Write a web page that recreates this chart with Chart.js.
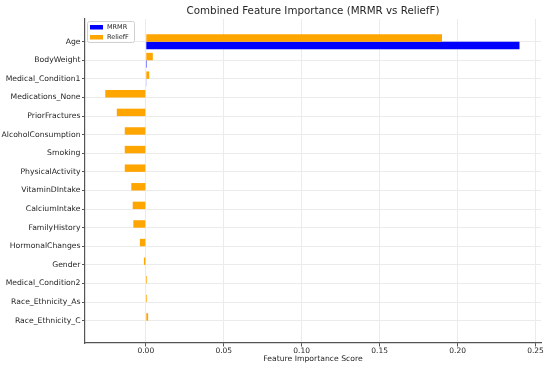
<!DOCTYPE html>
<html>
<head>
<meta charset="utf-8">
<script src="https://cdn.jsdelivr.net/npm/chart.js@4.4.1/dist/chart.umd.min.js"></script>
<style>
  html, body { margin: 0; padding: 0; background: #fff; }
  #wrap { width: 550px; height: 368px; }
</style>
</head>
<body>
<div id="wrap"><canvas id="chart"></canvas></div>
<script>
// feature importance data
const features = [
  'Age', 'BodyWeight', 'Medical_Condition1', 'Medications_None', 'PriorFractures',
  'AlcoholConsumption', 'Smoking', 'PhysicalActivity', 'VitaminDIntake', 'CalciumIntake',
  'FamilyHistory', 'HormonalChanges', 'Gender', 'Medical_Condition2', 'Race_Ethnicity_As',
  'Race_Ethnicity_C'
];
const mrmrScores = [0.2397, 0.0006, 0.0004, 0, 0, 0, 0, 0, 0, 0, 0, 0, 0, 0, 0, 0];
const relieffScores = [
  0.1900, 0.0045, 0.0022, -0.0260, -0.0186, -0.0135, -0.0135, -0.0135, -0.0093, -0.0084,
  -0.0080, -0.0038, -0.0012, 0.0008, 0.0008, 0.0015
];
const xTicks = [0, 0.05, 0.10, 0.15, 0.20, 0.25];
const chartTitle = 'Combined Feature Importance (MRMR vs ReliefF)';

const FONT = 'DejaVu Sans';
const TEXT = '#262626';

function toPoints(values) {
  return values.map((v, i) => ({ x: v, y: i }));
}

// title centred over the plot area (matplotlib style), legend inside top-left
// (datasets are stacked ReliefF-first, legend lists MRMR first)
const decorations = {
  id: 'decorations',
  afterDraw(chart) {
    const ctx = chart.ctx;
    const a = chart.chartArea;
    ctx.save();
    ctx.fillStyle = TEXT;
    ctx.font = '10.3px "' + FONT + '"';
    ctx.textAlign = 'center';
    ctx.textBaseline = 'middle';
    ctx.fillText(chartTitle, (a.left + a.right) / 2, 11.5);

    const x = a.left + 2, y = a.top + 2;
    ctx.fillStyle = 'rgba(255,255,255,0.85)';
    ctx.strokeStyle = '#d0d0d0';
    ctx.lineWidth = 1;
    ctx.beginPath();
    ctx.roundRect(x + 0.5, y + 0.5, 47, 21, 2);
    ctx.fill();
    ctx.stroke();
    ctx.font = '6.5px "' + FONT + '"';
    ctx.textAlign = 'left';
    chart.data.datasets.slice().reverse().forEach((ds, i) => {
      const cy = y + 6 + i * 10;
      ctx.fillStyle = ds.backgroundColor;
      ctx.fillRect(x + 3, cy - 2, 13, 4.5);
      ctx.fillStyle = TEXT;
      ctx.fillText(ds.label, x + 20, cy + 0.5);
    });
    ctx.restore();
  }
};

new Chart(document.getElementById('chart'), {
  type: 'bar',
  data: {
    datasets: [
      { label: 'ReliefF', data: toPoints(relieffScores), backgroundColor: '#ffa500' },
      { label: 'MRMR', data: toPoints(mrmrScores), backgroundColor: '#0000ff' }
    ]
  },
  options: {
    indexAxis: 'y',
    responsive: true,
    maintainAspectRatio: false,
    animation: false,
    layout: { padding: { left: 0, right: 9, top: 19, bottom: 0 } },
    datasets: { bar: { categoryPercentage: 0.8, barPercentage: 1.0, borderWidth: 0 } },
    plugins: {
      legend: { display: false },
      tooltip: { enabled: false },
      title: { display: false }
    },
    scales: {
      x: {
        type: 'linear',
        min: -0.039,
        max: 0.2535,
        afterBuildTicks(scale) { scale.ticks = xTicks.map(v => ({ value: v })); },
        afterFit(scale) { scale.height = 25; },
        ticks: {
          color: TEXT,
          font: { family: FONT, size: 7.5 },
          padding: 0,
          maxRotation: 0,
          callback: v => v.toFixed(2)
        },
        grid: { color: '#ebebeb', tickLength: 3.5, tickColor: '#555' },
        border: { color: '#555', width: 1.2 },
        title: {
          display: true,
          text: 'Feature Importance Score',
          color: TEXT,
          font: { family: FONT, size: 7.7 },
          padding: { top: 0, bottom: 4.5 }
        }
      },
      y: {
        type: 'linear',
        reverse: true,
        offset: false,
        min: -1.22,
        max: 16.2,
        afterBuildTicks(scale) { scale.ticks = features.map((f, i) => ({ value: i })); },
        afterFit(scale) { scale.width = 85; },
        ticks: {
          color: TEXT,
          font: { family: FONT, size: 7.7 },
          padding: 1.5,
          autoSkip: false,
          callback: v => features[v]
        },
        grid: { offset: false, color: '#ebebeb', tickLength: 3, tickColor: '#555' },
        border: { color: '#555', width: 1.2 }
      }
    }
  },
  plugins: [decorations]
});
</script>
</body>
</html>
